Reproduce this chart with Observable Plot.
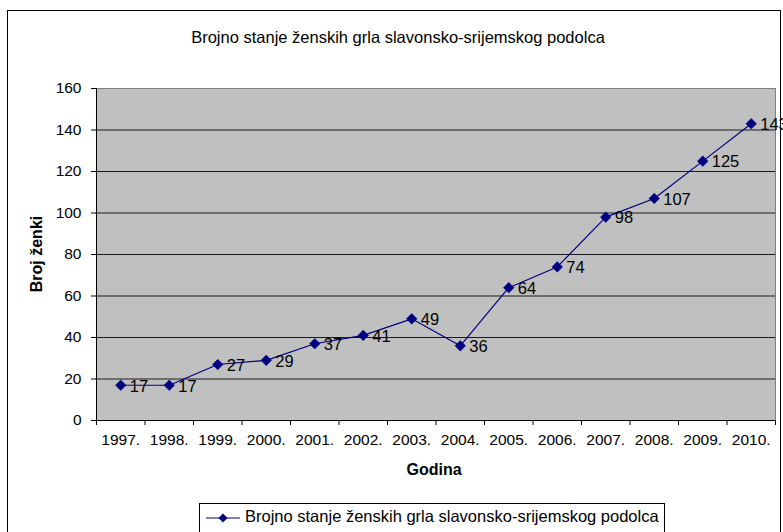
<!DOCTYPE html>
<html>
<head>
<meta charset="utf-8">
<script src="https://cdn.jsdelivr.net/npm/d3@7"></script>
<script src="https://cdn.jsdelivr.net/npm/@observablehq/plot@0.6"></script>
<style>
  html, body { margin: 0; padding: 0; background: #fff; }
  #wrap { position: relative; width: 783px; height: 532px; overflow: hidden; font-family: "Liberation Sans", Arial, sans-serif; }
  #border { position: absolute; left: 7px; top: 10px; width: 774px; height: 540px; border: 1px solid #000; box-sizing: border-box; }
  #title { position: absolute; left: 0; width: 796px; top: 28px; text-align: center; font-size: 16.5px; color: #000; }
  #ylab { position: absolute; left: 37px; top: 254px; transform: translate(-50%, -50%) rotate(-90deg); font-size: 16px; font-weight: bold; white-space: nowrap; }
  #xlab { position: absolute; left: 434px; top: 461px; transform: translateX(-50%); font-size: 16px; font-weight: bold; }
  #legend { position: absolute; left: 199px; top: 503px; width: 466px; height: 40px; border: 1px solid #000; box-sizing: border-box; background: #fff; }
  #legend svg { position: absolute; left: 6px; top: 7px; }
  #legend span { position: absolute; left: 45px; top: 3px; font-size: 16.5px; white-space: nowrap; }
  #chart { position: absolute; left: 0; top: 0; }
</style>
</head>
<body>
<div id="wrap">
  <div id="border"></div>
  <div id="chart"></div>
  <div id="title">Brojno stanje ženskih grla slavonsko-srijemskog podolca</div>
  <div id="ylab">Broj ženki</div>
  <div id="xlab">Godina</div>
  <div id="legend">
    <svg width="36" height="14"><line x1="0" y1="7" x2="34" y2="7" stroke="#000080" stroke-width="1.2"/><path d="M17,2.5 L21.5,7 L17,11.5 L12.5,7 Z" fill="#000080"/></svg>
    <span>Brojno stanje ženskih grla slavonsko-srijemskog podolca</span>
  </div>
</div>
<script>
const years = ["1997.", "1998.", "1999.", "2000.", "2001.", "2002.", "2003.", "2004.", "2005.", "2006.", "2007.", "2008.", "2009.", "2010."];
const values = [17, 17, 27, 29, 37, 41, 49, 36, 64, 74, 98, 107, 125, 143];
const yTicks = [0, 20, 40, 60, 80, 100, 120, 140, 160];

const data = years.map((y, i) => ({ year: y, pos: i + 0.5, value: values[i] }));
const boundaries = d3.range(years.length + 1);
const centers = years.map((_, i) => i + 0.5);
const navy = "#000080";

const chart = Plot.plot({
  width: 783,
  height: 532,
  marginTop: 88,
  marginBottom: 112,
  marginLeft: 96,
  marginRight: 8,
  style: { fontFamily: "Liberation Sans, Arial, sans-serif", color: "#000", background: "transparent" },
  x: { type: "linear", domain: [0, years.length] },
  y: { domain: [0, 160] },
  marks: [
    Plot.frame({ fill: "#c0c0c0", stroke: "#808080" }),
    Plot.ruleY(yTicks.filter(d => d > 0 && d < 160), { stroke: "#1a1a1a", strokeWidth: 1 }),
    Plot.ruleX([0], { stroke: "#000" }),
    Plot.ruleY([0], { stroke: "#000" }),
    Plot.axisY(yTicks, { tickSize: 5, tickPadding: 10, fontSize: 15.5, label: null, stroke: "#000" }),
    Plot.axisX(boundaries, { tickSize: 5, tickFormat: () => "", label: null, stroke: "#000" }),
    Plot.axisX(centers, { tickSize: 0, tickPadding: 13, fontSize: 15.5, label: null, tickFormat: d => years[Math.round(d - 0.5)] }),
    Plot.line(data, { x: "pos", y: "value", stroke: navy, strokeWidth: 1.2 }),
    Plot.dot(data, { x: "pos", y: "value", symbol: "diamond2", r: 4.8, fill: navy, stroke: navy, strokeWidth: 0.5 }),
    Plot.text(data, { x: "pos", y: "value", text: "value", dx: 9, dy: 1, textAnchor: "start", fontSize: 16.5, fill: "#000" })
  ]
});
document.getElementById("chart").appendChild(chart);
</script>
</body>
</html>
